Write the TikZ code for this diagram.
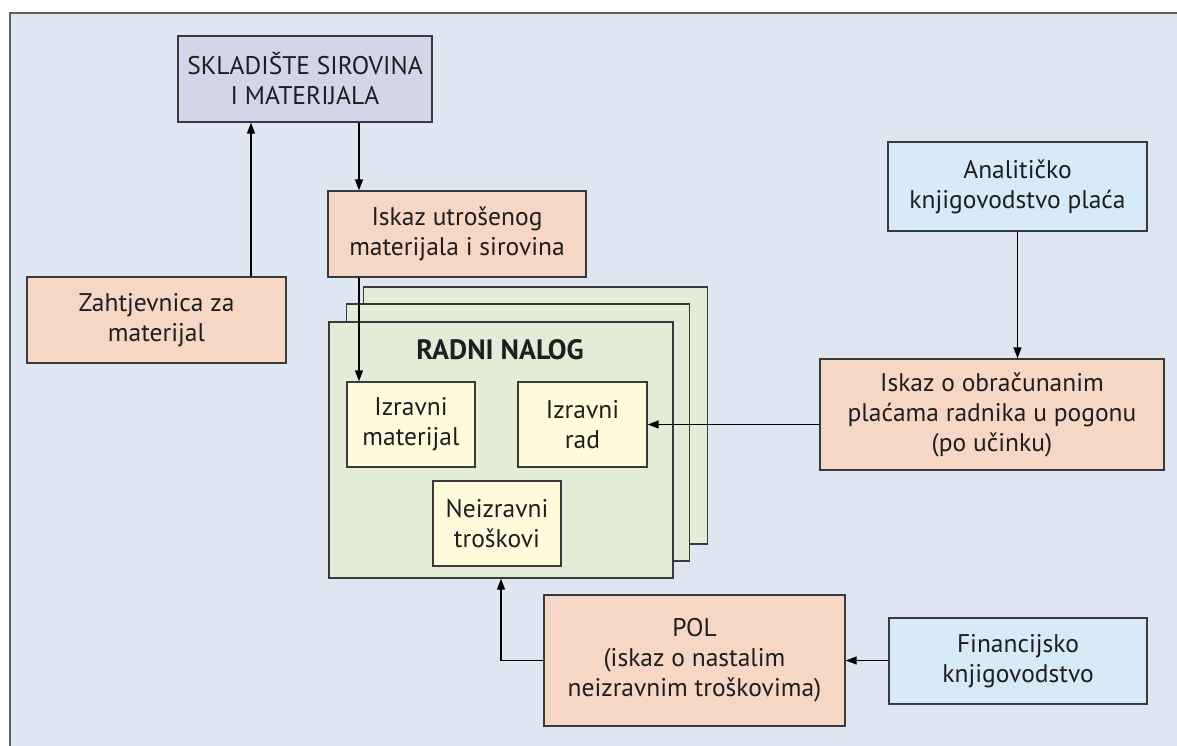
\documentclass[tikz,border=0pt]{standalone}
\usepackage{fontspec}
\setmainfont{PT Sans}
\usetikzlibrary{arrows.meta,calc}
\definecolor{bg}{HTML}{DEE6F2}
\definecolor{lav}{HTML}{D5D5E8}
\definecolor{salmon}{HTML}{F6D6C4}
\definecolor{lblue}{HTML}{D6EAF8}
\definecolor{green}{HTML}{E2ECD6}
\definecolor{cream}{HTML}{FFFADC}
\definecolor{edge}{HTML}{3A3A3A}
\definecolor{txt}{HTML}{1E1E1E}
\begin{document}
\begin{tikzpicture}[x=1pt,y=-1pt,
  box/.style={draw=edge, line width=1.4pt, inner sep=0pt, align=center, text=txt,
    font=\fontsize{25.5}{30}\selectfont},
  arr/.style={draw=black, line width=1.4pt, -{Triangle[length=11pt,width=8pt]}},
  ln/.style={draw=black, line width=1.4pt}]
\useasboundingbox (0,0) rectangle (1177,745);
\clip (0,0) rectangle (1177,745);
\fill[white] (0,0) rectangle (1177,745);
\draw[fill=bg, draw=edge!80, line width=2.5pt] (10,13) rectangle (1200,770);

% top left
\node[box, fill=lav, minimum width=254pt, minimum height=86pt] (skl) at (305,79) {SKLADIŠTE SIROVINA\\I MATERIJALA};
\node[box, fill=salmon, minimum width=258pt, minimum height=86pt] (iu) at (457,234) {Iskaz utrošenog\\materijala i sirovina};
\node[box, fill=salmon, minimum width=259pt, minimum height=86pt] (zah) at (156.5,320) {Zahtjevnica za\\materijal};

% stack
\node[box, fill=green, minimum width=344pt, minimum height=257pt] (back) at (535.5,415.5) {};
\node[box, fill=green, minimum width=343pt, minimum height=257pt] (middle) at (518,432.5) {};
\node[box, fill=green, minimum width=344pt, minimum height=256pt] (front) at (501,450) {};
\node[text=txt, font=\bfseries\fontsize{28}{32}\selectfont] (title) at (500,350) {RADNI NALOG};
\node[box, fill=cream, minimum width=128pt, minimum height=85pt] (im) at (411,424.5) {Izravni\\materijal};
\node[box, fill=cream, minimum width=129pt, minimum height=85pt] (ir) at (582.5,424.5) {Izravni\\rad};
\node[box, fill=cream, minimum width=128pt, minimum height=85pt] (nt) at (497,523.5) {Neizravni\\troškovi};

% right
\node[box, fill=lblue, minimum width=259pt, minimum height=89pt] (an) at (1017.5,186.5) {Analitičko\\knjigovodstvo plaća};
\node[box, fill=salmon, minimum width=344pt, minimum height=111pt] (io) at (992,414.5) {Iskaz o obračunanim\\plaćama radnika u pogonu\\(po učinku)};
\node[box, fill=salmon, minimum width=301pt, minimum height=131pt] (pol) at (694.5,660.5) {POL\\(iskaz o nastalim\\neizravnim troškovima)};
\node[box, fill=lblue, minimum width=258pt, minimum height=86pt] (fin) at (1018,661) {Financijsko\\knjigovodstvo};

% helper coordinates
\coordinate (xa) at (251,0);
\coordinate (xb) at (359,0);

% connectors
\draw[arr] (zah.north -| xa) -- (skl.south -| xa);
\draw[arr] (skl.south -| xb) -- (iu.north -| xb);
\draw[arr] (iu.south -| xb) -- (im.north -| xb);
\draw[arr] (an.south) -- (an.south |- io.north);
\draw[arr] (io.west |- ir.east) -- (ir.east);
\draw[arr] (fin.west |- pol.east) -- (pol.east);
\draw[arr] (pol.west) -| (front.south);
\end{tikzpicture}
\end{document}
